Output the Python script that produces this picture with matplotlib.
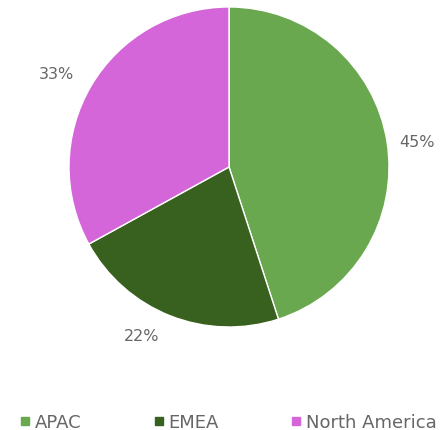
import numpy as np
import matplotlib.pyplot as plt
from matplotlib.lines import Line2D

regions = ["APAC", "EMEA", "North America"]
share = [45, 22, 33]
colors = ["#6aa84f", "#38601f", "#d466d9"]

# nudge of each percent label around the pie (degrees, radius)
label_shift = [-1.4, -6.0, 2.3]
label_radius = [1.185, 1.185, 1.227]

plt.rcParams['font.family'] = ['DejaVu Sans']

fig = plt.figure(figsize=(4.41, 4.31), dpi=100)
ax = fig.add_axes([0.1565, 0.239, 0.7256, 0.7425])

wedges, _ = ax.pie(share, colors=colors, startangle=90, counterclock=False,
                   wedgeprops=dict(edgecolor='white', linewidth=1))

for w, v, da, r in zip(wedges, share, label_shift, label_radius):
    mid = np.deg2rad((w.theta1 + w.theta2) / 2 + da)
    ax.text(r * np.cos(mid), r * np.sin(mid), f"{v}%", ha='center',
            va='center', color='#666666', fontsize=11.5)

ax.set_xlim(-1, 1)
ax.set_ylim(-1, 1)
ax.set_aspect('auto')
ax.axis('off')

handles = [Line2D([], [], marker='s', linestyle='none', markersize=6,
                  markerfacecolor=c, markeredgecolor=c) for c in colors]
fig.legend(handles, regions, loc='center', bbox_to_anchor=(0.513, 0.018),
           ncol=3, frameon=False, handletextpad=0.05, handlelength=1.0,
           columnspacing=3.75, prop=dict(size=13), labelcolor='#666666')

fig.savefig("out.png", dpi=100)
